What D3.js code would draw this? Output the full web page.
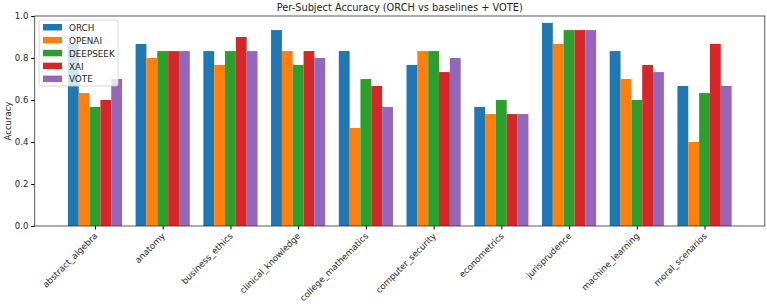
<!DOCTYPE html>
<html>
<head>
<meta charset="utf-8">
<script src="https://cdn.jsdelivr.net/npm/d3@7"></script>
<style>
  body { margin: 0; background: #fff; }
  text { font-family: "DejaVu Sans", sans-serif; fill: #262626; }
</style>
</head>
<body>
<svg id="chart"></svg>
<script>
let subjects = ["abstract_algebra","anatomy","business_ethics","clinical_knowledge","college_mathematics",
                "computer_security","econometrics","jurisprudence","machine_learning","moral_scenarios"];
let seriesNames = ["ORCH","OPENAI","DEEPSEEK","XAI","VOTE"];
let orch     = [0.867,0.867,0.833,0.933,0.833,0.767,0.567,0.967,0.833,0.667];
let openai   = [0.633,0.800,0.767,0.833,0.467,0.833,0.533,0.867,0.700,0.400];
let deepseek = [0.567,0.833,0.833,0.767,0.700,0.833,0.600,0.933,0.600,0.633];
let xai      = [0.600,0.833,0.900,0.833,0.667,0.733,0.533,0.933,0.767,0.867];
let vote     = [0.700,0.833,0.833,0.800,0.567,0.800,0.533,0.933,0.733,0.667];
let yTicks = [0.0,0.2,0.4,0.6,0.8,1.0];
let colors = ["#1f77b4","#ff7f0e","#2ca02c","#d62728","#9467bd"];

let allSeries = [orch, openai, deepseek, xai, vote];
let width = 767, height = 308;
let margin = {left: 34.7, right: 2.2, top: 16, bottom: 82};

let svg = d3.select("#chart").attr("width", width).attr("height", height);

// numeric x like matplotlib: groups at 0..9, limits -0.89..9.89
let x = d3.scaleLinear().domain([-0.89, 9.89]).range([margin.left, width - margin.right]);
let y = d3.scaleLinear().domain([0, 1]).range([height - margin.bottom, margin.top]);
let bw = 0.16;

// bars
allSeries.forEach((vals, s) => {
  svg.append("g")
    .selectAll("rect")
    .data(vals)
    .enter()
    .append("rect")
    .attr("x", (d, i) => x(i - 0.4 + s * bw))
    .attr("width", x(bw) - x(0))
    .attr("y", d => y(d))
    .attr("height", d => y(0) - y(d))
    .attr("fill", colors[s]);
});

// axes
let yAxis = d3.axisLeft(y).tickValues(yTicks).tickFormat(d3.format(".1f")).tickSize(3.5).tickPadding(2.8);
let gy = svg.append("g").attr("transform", "translate(" + margin.left + ",0)").call(yAxis);
gy.select(".domain").remove();
gy.selectAll("text").style("font-size", "8.5px").style("font-family", "DejaVu Sans");

let xAxis = d3.axisBottom(x).tickValues(d3.range(subjects.length)).tickFormat(i => subjects[i]).tickSize(3.5);
let gx = svg.append("g").attr("transform", "translate(0," + y(0) + ")").call(xAxis);
gx.select(".domain").remove();
gx.selectAll("text")
  .style("font-size", "8.7px")
  .style("font-family", "DejaVu Sans")
  .attr("text-anchor", "end")
  .attr("dy", null)
  .attr("y", 0)
  .attr("transform", "translate(2.5,10.5) rotate(-45)");

// frame
svg.append("rect")
  .attr("x", margin.left).attr("y", margin.top)
  .attr("width", width - margin.right - margin.left)
  .attr("height", y(0) - margin.top)
  .attr("fill", "none").attr("stroke", "#333").attr("stroke-width", 0.8);

// title & y label
svg.append("text")
  .attr("x", (margin.left + width - margin.right) / 2).attr("y", 11)
  .attr("text-anchor", "middle").style("font-size", "9.8px")
  .text("Per-Subject Accuracy (ORCH vs baselines + VOTE)");

svg.append("text")
  .attr("transform", "translate(10.5," + (margin.top + y(0)) / 2 + ") rotate(-90)")
  .attr("text-anchor", "middle").style("font-size", "8.5px")
  .text("Accuracy");

// legend
let lg = svg.append("g").attr("transform", "translate(39,20)");
lg.append("rect").attr("width", 79).attr("height", 66).attr("rx", 2)
  .attr("fill", "white").attr("fill-opacity", 0.8).attr("stroke", "#ccc").attr("stroke-width", 0.8);
seriesNames.forEach((n, i) => {
  lg.append("rect").attr("x", 4).attr("y", 4 + i * 12.9).attr("width", 19).attr("height", 6.5).attr("fill", colors[i]);
  lg.append("text").attr("x", 30).attr("y", 10.8 + i * 12.9).style("font-size", "8.8px").text(n);
});
</script>
</body>
</html>
